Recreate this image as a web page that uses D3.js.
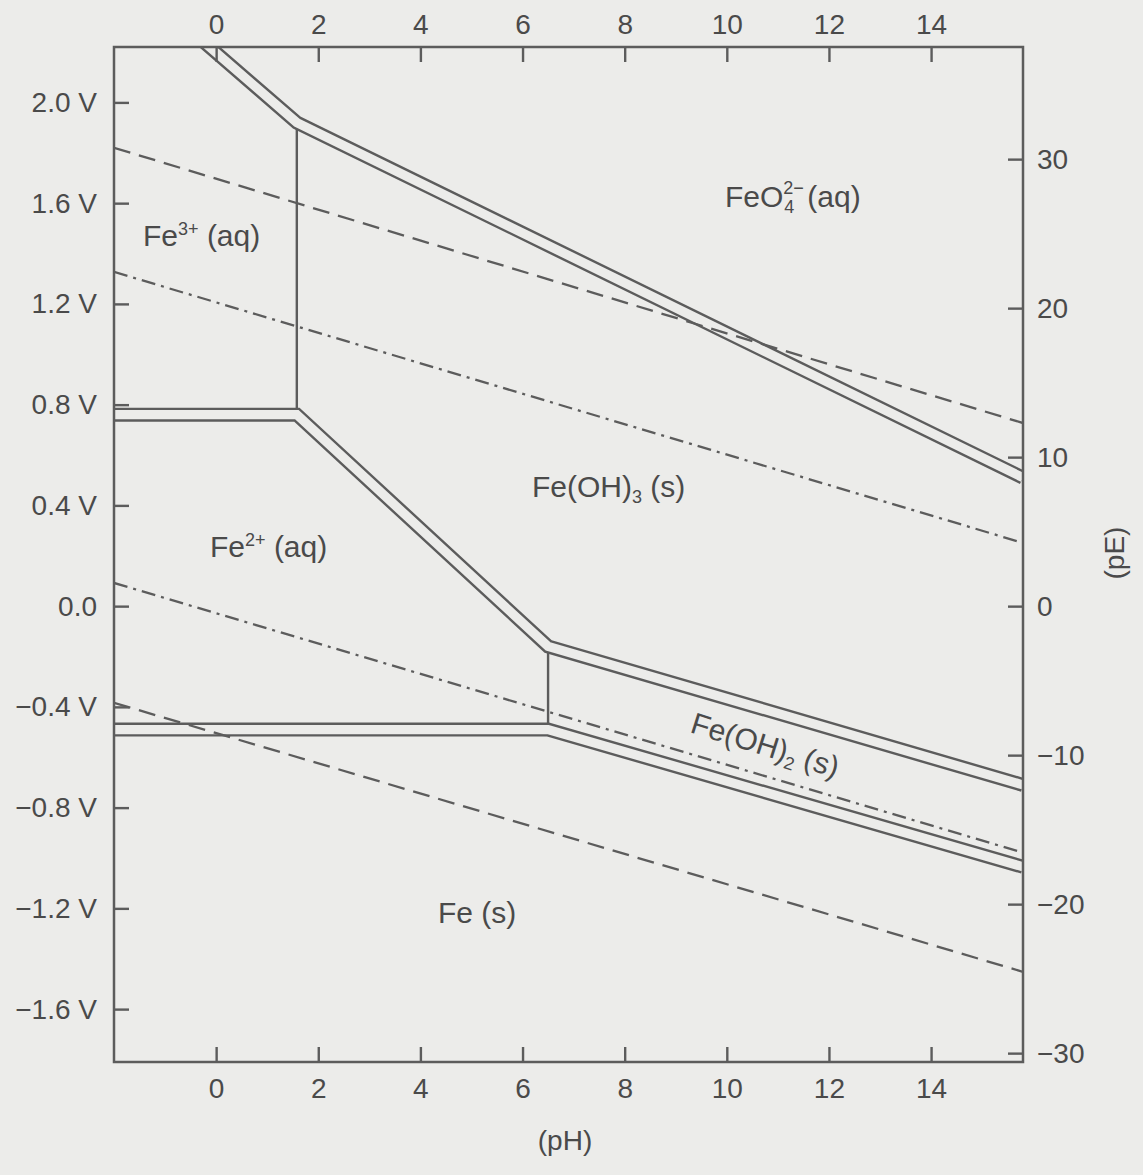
<!DOCTYPE html>
<html>
<head>
<meta charset="utf-8">
<script src="https://cdn.jsdelivr.net/npm/d3@7"></script>
<style>
  html, body { margin: 0; padding: 0; background: #ececea; }
  svg text { font-family: "Liberation Sans", Arial, Helvetica, sans-serif; fill: #4a4a4a; }
</style>
</head>
<body>
<svg id="chart" width="1143" height="1175"></svg>
<script>
// axis ticks
var phTicks = [0, 2, 4, 6, 8, 10, 12, 14];
var vTicks = [2.0, 1.6, 1.2, 0.8, 0.4, 0.0, -0.4, -0.8, -1.2, -1.6];
var vTickLabels = ["2.0 V", "1.6 V", "1.2 V", "0.8 V", "0.4 V", "0.0", "\u22120.4 V", "\u22120.8 V", "\u22121.2 V", "\u22121.6 V"];
var peTicks = [30, 20, 10, 0, -10, -20, -30];

// phase boundaries, [pH, E (V)]
var feo4Boundary = [[-0.3, 2.25], [1.58, 1.92], [15.8, 0.51]];
var fe3Fe2Boundary = [[-2.2, 0.76], [1.58, 0.76], [6.5, -0.16], [15.8, -0.71]];
var fe2FeBoundary = [[-2.2, -0.49], [6.5, -0.49], [15.8, -1.035]];
var fe3SolidBoundary = [[1.58, 1.92], [1.58, 0.76]];
var fe2SolidBoundary = [[6.5, -0.16], [6.5, -0.49]];

// water stability lines
var o2Dashed = [[-2, 1.82], [15.8, 0.727]];
var o2DashDot = [[-2, 1.327], [15.8, 0.251]];
var h2DashDot = [[-2, 0.092], [15.8, -0.979]];
var h2Dashed = [[-2, -0.384], [15.8, -1.452]];

var VOLT_PER_PE = 0.05916;
var bg = "#ececea", ink = "#5c5c5c";

var svg = d3.select("#chart");
var plotL = 114, plotR = 1023, plotT = 47, plotB = 1062;

var x = d3.scaleLinear().domain([-2, 15.8]).range([plotL, plotR]);
var y = d3.scaleLinear().domain([-1.81, 2.22]).range([plotB, plotT]);
var yPe = d3.scaleLinear()
    .domain([-1.81 / VOLT_PER_PE, 2.22 / VOLT_PER_PE])
    .range([plotB, plotT]);

svg.append("defs").append("clipPath").attr("id", "plotClip")
  .append("rect")
    .attr("x", plotL).attr("y", plotT)
    .attr("width", plotR - plotL).attr("height", plotB - plotT);

var line = d3.line().x(function(d) { return x(d[0]); }).y(function(d) { return y(d[1]); });

var plot = svg.append("g").attr("clip-path", "url(#plotClip)");

// single vertical boundaries go below the double lines
[fe3SolidBoundary, fe2SolidBoundary].forEach(function(b) {
  plot.append("path").attr("d", line(b))
    .attr("fill", "none").attr("stroke", ink).attr("stroke-width", 2.4);
});

// double lines: wide dark stroke, then a background stroke inside
var doubles = [feo4Boundary, fe3Fe2Boundary, fe2FeBoundary];
doubles.forEach(function(b) {
  plot.append("path").attr("d", line(b))
    .attr("fill", "none").attr("stroke", ink).attr("stroke-width", 14)
    .attr("stroke-linejoin", "miter").attr("stroke-miterlimit", 10);
});
doubles.forEach(function(b) {
  plot.append("path").attr("d", line(b))
    .attr("fill", "none").attr("stroke", bg).attr("stroke-width", 9.2)
    .attr("stroke-linejoin", "miter").attr("stroke-miterlimit", 10);
});

// water lines
[[o2Dashed, "17,9"], [h2Dashed, "17,9"], [o2DashDot, "14,6,3,6"], [h2DashDot, "14,6,3,6"]].forEach(function(w) {
  plot.append("path").attr("d", line(w[0]))
    .attr("fill", "none").attr("stroke", ink).attr("stroke-width", 2.3)
    .attr("stroke-dasharray", w[1]);
});

// frame
svg.append("rect")
  .attr("x", plotL).attr("y", plotT)
  .attr("width", plotR - plotL).attr("height", plotB - plotT)
  .attr("fill", "none").attr("stroke", ink).attr("stroke-width", 2.5);

// axes with inward ticks
var tickLen = 15;
function styleAxis(g) {
  g.select(".domain").remove();
  g.selectAll(".tick line").attr("stroke", ink).attr("stroke-width", 2.4);
  g.selectAll(".tick text").attr("font-size", 28).attr("fill", "#4a4a4a")
    .style("font-family", "'Liberation Sans', Arial, sans-serif");
}

svg.append("g").attr("transform", "translate(0," + plotB + ")")
  .call(d3.axisBottom(x).tickValues(phTicks).tickSizeInner(-tickLen).tickPadding(16).tickFormat(d3.format("d")))
  .call(styleAxis);

svg.append("g").attr("transform", "translate(0," + plotT + ")")
  .call(d3.axisTop(x).tickValues(phTicks).tickSizeInner(-tickLen).tickPadding(13).tickFormat(d3.format("d")))
  .call(styleAxis);

svg.append("g").attr("transform", "translate(" + plotL + ",0)")
  .call(d3.axisLeft(y).tickValues(vTicks).tickSizeInner(-tickLen).tickPadding(17)
    .tickFormat(function(d, i) { return vTickLabels[i]; }))
  .call(styleAxis);

svg.append("g").attr("transform", "translate(" + plotR + ",0)")
  .call(d3.axisRight(yPe).tickValues(peTicks).tickSizeInner(-tickLen).tickPadding(14)
    .tickFormat(function(d) { return d < 0 ? "\u2212" + Math.abs(d) : d; }))
  .call(styleAxis);

// axis titles
svg.append("text").attr("x", 565).attr("y", 1150).attr("text-anchor", "middle")
  .attr("font-size", 28).text("(pH)");
svg.append("text").attr("transform", "translate(1124,553) rotate(-90)").attr("text-anchor", "middle")
  .attr("font-size", 28).text("(pE)");

// species labels
var fs = 30, small = 18;
function species(px, py, main, sup, rest, angle) {
  var t = svg.append("text").attr("font-size", fs)
    .attr("transform", "translate(" + px + "," + py + ")" + (angle ? " rotate(" + angle + ")" : ""));
  t.append("tspan").text(main);
  if (sup) {
    t.append("tspan").attr("font-size", small).attr("dy", sup.dy).text(sup.text);
    t.append("tspan").attr("dy", -sup.dy).text(rest);
  } else {
    t.append("tspan").text(rest);
  }
  return t;
}

species(143, 246, "Fe", {text: "3+", dy: -11}, " (aq)");
species(210, 557, "Fe", {text: "2+", dy: -11}, " (aq)");
species(532, 497, "Fe(OH)", {text: "3", dy: 6}, " (s)");
species(438, 923, "Fe (s)", null, "");
species(689, 732, "Fe(OH)", {text: "2", dy: 6}, " (s)", 17.5);

// FeO4 2- with stacked sub/superscript
var feo = svg.append("text").attr("x", 725).attr("y", 207).attr("font-size", fs).text("FeO");
var w = feo.node().getComputedTextLength();
var ion = svg.append("text").attr("font-size", small);
ion.append("tspan").attr("x", 725 + w).attr("y", 194).text("2\u2212");
ion.append("tspan").attr("x", 725 + w + 1).attr("y", 213).text("4");
svg.append("text").attr("x", 725 + w + 24).attr("y", 207).attr("font-size", fs).text("(aq)");
</script>
</body>
</html>
